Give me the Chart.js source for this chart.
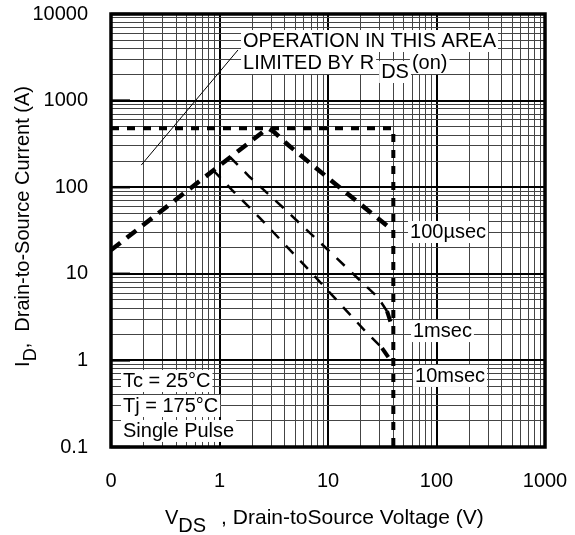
<!DOCTYPE html>
<html>
<head>
<meta charset="utf-8">
<script src="https://cdn.jsdelivr.net/npm/chart.js@4.4.0/dist/chart.umd.min.js"></script>
<style>
  body { margin: 0; background: #fff; }
  #wrap { width: 575px; height: 535px; }
</style>
</head>
<body>
<div id="wrap"><canvas id="soaChart" width="575" height="535"></canvas></div>
<script>
// Axis decades and their printed labels
const xDecades = [0.1, 1, 10, 100, 1000];
const xTickLabels = ['0', '1', '10', '100', '1000'];
const yDecades = [0.1, 1, 10, 100, 1000, 10000];
const yTickLabels = ['0.1', '1', '10', '100', '1000', '10000'];

// Package current limit and max VDS (dashed box)
const limitV = [0.1, 40, 40];
const limitI = [480, 480, 0.1];

// 100usec curve, starts on the RDS(on) line
const us100V = [0.1, 2.6, 2.85, 3.15, 4.3, 12, 36];
const us100I = [18.8, 450, 475, 440, 307, 106, 35];

// 1msec curve
const ms1V = [1.25, 1.9, 3.8, 10.4, 29, 35, 40];
const ms1I = [223, 131, 59, 18, 5.3, 3.7, 2.2];

// 10msec curve
const ms10V = [0.87, 1.3, 2.36, 6.4, 22.9, 31.5, 40];
const ms10I = [158, 93, 44, 11.7, 2.07, 1.39, 0.9];

// pointer line to the RDS(on) note
const rdsV = [0.19, 1.48];
const rdsI = [180, 3840];

// text notes, anchored in data units (V, A)
const noteTexts = ['100µsec', '1msec', '10msec', 'Tc = 25°C', 'Tj = 175°C', 'Single Pulse'];
const noteV = [57, 60.7, 63.4, 0.129, 0.129, 0.129];
const noteI = [25.9, 1.86, 0.564, 0.493, 0.2535, 0.1306];

const FONT = '"Liberation Sans", Arial, Helvetica, sans-serif';

const toPoints = (xs, ys) => xs.map((x, k) => ({ x: x, y: ys[k] }));

// 1..9 x 10^n for every decade
const logTicks = (decades) => {
    const values = [];
    decades.forEach((d, k) => {
        if (k === decades.length - 1) {
            values.push(d);
            return;
        }
        for (let m = 1; m < 10; m++) values.push(+(m * d).toPrecision(6));
    });
    return values;
};

const isDecade = (v) => {
    const l = Math.log10(v);
    return Math.abs(l - Math.round(l)) < 1e-6;
};

const labelFor = (decades, labels) => (value) => {
    const k = decades.findIndex(d => Math.abs(d - value) < d * 1e-6);
    return k >= 0 ? labels[k] : '';
};

const gridOpts = {
    drawTicks: false,
    color: ctx => (ctx.tick && isDecade(ctx.tick.value)) ? '#000' : '#444',
    lineWidth: ctx => (ctx.tick && isDecade(ctx.tick.value)) ? 2 : 1
};

// white-backed text
const boxText = (ctx, text, x, y) => {
    const w = ctx.measureText(text).width;
    ctx.fillStyle = '#fff';
    ctx.fillRect(x - 2, y - 17, w + 4, 22);
    ctx.fillStyle = '#000';
    ctx.fillText(text, x, y);
    return w;
};

const soaDecor = {
    id: 'soaDecor',
    afterDatasetsDraw(chart) {
        const { ctx, chartArea, scales } = chart;
        const xs = scales.x, ys = scales.y;
        ctx.save();
        ctx.font = '20px ' + FONT;
        ctx.textBaseline = 'alphabetic';
        ctx.textAlign = 'left';

        // RDS(on) note
        const ax = xs.getPixelForValue(1.647);
        const ay = ys.getPixelForValue(4160);
        boxText(ctx, 'OPERATION IN THIS AREA', ax, ay);
        let w = boxText(ctx, 'LIMITED BY R', ax, ay + 22);
        w += boxText(ctx, 'DS', ax + w + 7, ay + 31) + 7;
        boxText(ctx, '(on)', ax + w + 3, ay + 22);

        noteTexts.forEach((t, k) => {
            boxText(ctx, t, xs.getPixelForValue(noteV[k]), ys.getPixelForValue(noteI[k]));
        });

        // inward ticks at decades on the left side
        ctx.strokeStyle = '#000';
        ctx.lineWidth = 2.5;
        yDecades.forEach(d => {
            const y = ys.getPixelForValue(d);
            ctx.beginPath();
            ctx.moveTo(chartArea.left, y);
            ctx.lineTo(chartArea.left + 19, y);
            ctx.stroke();
        });

        // frame
        ctx.lineWidth = 3.5;
        ctx.strokeRect(chartArea.left, chartArea.top,
            chartArea.right - chartArea.left, chartArea.bottom - chartArea.top);

        // y title with subscript
        ctx.save();
        ctx.translate(29, (chartArea.top + chartArea.bottom) / 2 - 4);
        ctx.rotate(-Math.PI / 2);
        const yMain = 'I', ySub = 'D', yRest = ',  Drain-to-Source Current (A)';
        ctx.font = '20px ' + FONT;
        const w1 = ctx.measureText(yMain).width;
        const w3 = ctx.measureText(yRest).width;
        ctx.font = '18px ' + FONT;
        const w2 = ctx.measureText(ySub).width;
        let tx = -(w1 + w2 + w3) / 2;
        ctx.fillStyle = '#000';
        ctx.font = '20px ' + FONT;
        ctx.fillText(yMain, tx, 0);
        tx += w1;
        ctx.font = '18px ' + FONT;
        ctx.fillText(ySub, tx, 7);
        tx += w2;
        ctx.font = '20px ' + FONT;
        ctx.fillText(yRest, tx, 0);
        ctx.restore();

        // x title with subscript
        let bx = (chartArea.left + chartArea.right) / 2 - 163;
        const by = 524;
        ctx.fillStyle = '#000';
        ctx.font = '20px ' + FONT;
        ctx.fillText('V', bx, by);
        bx += ctx.measureText('V').width;
        ctx.fillText('DS', bx, by + 8);
        bx += ctx.measureText('DS').width + 15;
        ctx.font = '21px ' + FONT;
        ctx.fillText(', Drain-toSource Voltage (V)', bx, by);

        ctx.restore();
    }
};

new Chart(document.getElementById('soaChart'), {
    type: 'scatter',
    data: {
        datasets: [
            {
                label: 'Limit',
                data: toPoints(limitV, limitI),
                showLine: true,
                borderColor: '#000',
                borderWidth: 4,
                borderDash: [8, 8],
                pointRadius: 0
            },
            {
                label: '100µsec',
                data: toPoints(us100V, us100I),
                showLine: true,
                borderColor: '#000',
                borderWidth: 4.5,
                borderDash: [12, 8],
                pointRadius: 0
            },
            {
                label: '1msec',
                data: toPoints(ms1V, ms1I),
                showLine: true,
                borderColor: '#000',
                borderWidth: 2.5,
                borderDash: [11, 10],
                pointRadius: 0,
                segment: {
                    borderWidth: ctx => ctx.p0DataIndex >= 5 ? 4 : 2.5
                }
            },
            {
                label: '10msec',
                data: toPoints(ms10V, ms10I),
                showLine: true,
                borderColor: '#000',
                borderWidth: 2.5,
                borderDash: [11, 10],
                pointRadius: 0,
                segment: {
                    borderWidth: ctx => ctx.p0DataIndex >= 5 ? 4 : 2.5
                }
            },
            {
                label: 'RDS(on)',
                data: toPoints(rdsV, rdsI),
                showLine: true,
                borderColor: '#000',
                borderWidth: 1,
                pointRadius: 0
            }
        ]
    },
    options: {
        responsive: false,
        animation: false,
        layout: {
            padding: { top: 14, right: 30, left: 0, bottom: 0 }
        },
        plugins: {
            legend: { display: false },
            tooltip: { enabled: false }
        },
        scales: {
            x: {
                type: 'logarithmic',
                min: 0.1,
                max: 1000,
                afterBuildTicks: scale => {
                    scale.ticks = logTicks(xDecades).map(value => ({ value: value }));
                },
                afterFit: scale => {
                    scale.height = 88;
                    scale.paddingLeft = 0;
                    scale.paddingRight = 0;
                },
                border: { display: false },
                grid: gridOpts,
                ticks: {
                    autoSkip: false,
                    maxRotation: 0,
                    padding: 22,
                    color: '#000',
                    font: { family: FONT, size: 20 },
                    callback: labelFor(xDecades, xTickLabels)
                }
            },
            y: {
                type: 'logarithmic',
                min: 0.1,
                max: 10000,
                afterBuildTicks: scale => {
                    scale.ticks = logTicks(yDecades).map(value => ({ value: value }));
                },
                afterFit: scale => {
                    scale.width = 111;
                    scale.paddingTop = 0;
                    scale.paddingBottom = 0;
                },
                border: { display: false },
                grid: gridOpts,
                ticks: {
                    autoSkip: false,
                    padding: 23,
                    color: '#000',
                    font: { family: FONT, size: 20 },
                    callback: labelFor(yDecades, yTickLabels)
                }
            }
        }
    },
    plugins: [soaDecor]
});
</script>
</body>
</html>
